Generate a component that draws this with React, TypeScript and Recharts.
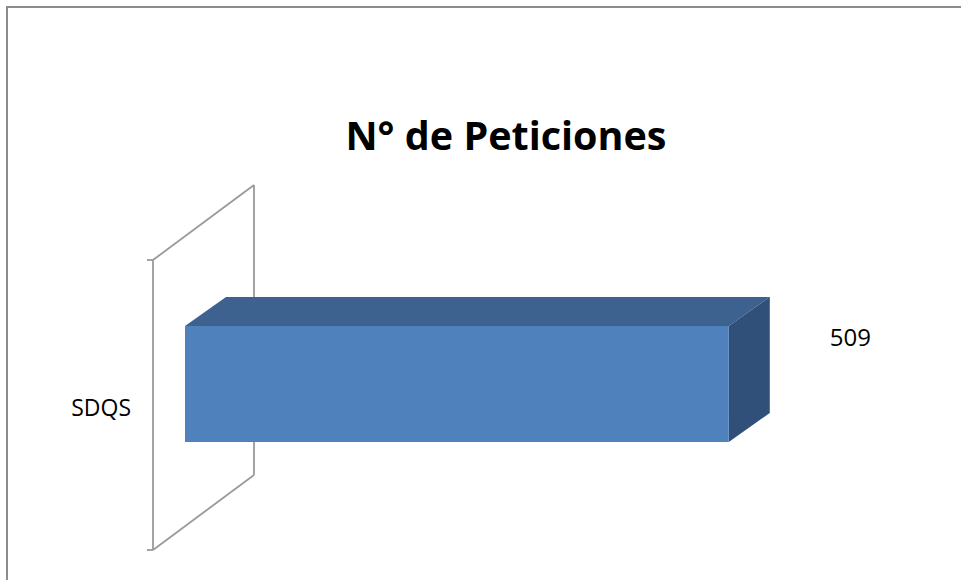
import React from 'react';
import { BarChart, Bar, XAxis, YAxis, LabelList } from 'recharts';

const categories = ['SDQS'];
const values = [509];
const titleText = 'N° de Peticiones';

const data = categories.map((c, i) => ({ name: c, value: values[i] }));

const FONT = '"Open Sans", "Noto Sans", sans-serif';
const GAP = 0.3;
const DEPTH_DX = 41;
const DEPTH_DY = -29;

const Wall = ({ x, y, height }: { x: number; y: number; height: number }) => {
  // derive the full category band from the bar thickness and gap ratio
  const bandH = height / (1 - 2 * GAP);
  const bandY = y - GAP * bandH;
  const fx = x - 32;
  const fy = bandY + 21;
  const bx = x + 69;
  const by = bandY - 54;
  return (
    <g fill="none" stroke="#9A9A9A" strokeWidth={1.8}>
      <line x1={fx} y1={fy} x2={fx} y2={fy + bandH} />
      <line x1={bx} y1={by} x2={bx} y2={by + bandH} />
      <line x1={fx} y1={fy} x2={bx} y2={by} />
      <line x1={fx} y1={fy + bandH} x2={bx} y2={by + bandH} />
      <line x1={fx - 6} y1={fy} x2={fx} y2={fy} />
      <line x1={fx - 6} y1={fy + bandH} x2={fx} y2={fy + bandH} />
    </g>
  );
};

const Bar3D = (props: any) => {
  const { x, y, width, height } = props;
  if (width == null || height == null) return null;
  const front = `M${x},${y} L${x + width},${y} L${x + width},${y + height} L${x},${y + height} Z`;
  const top = `M${x},${y} L${x + DEPTH_DX},${y + DEPTH_DY} L${x + width + DEPTH_DX},${y + DEPTH_DY} L${x + width},${y} Z`;
  const side = `M${x + width},${y} L${x + width + DEPTH_DX},${y + DEPTH_DY} L${x + width + DEPTH_DX},${y + height + DEPTH_DY} L${x + width},${y + height} Z`;
  return (
    <g>
      <Wall x={x} y={y} height={height} />
      <path d={top} fill="#3D6290" />
      <path d={side} fill="#30507A" />
      <path d={front} fill="#4F81BD" />
    </g>
  );
};

const CatTick = (props: any) => {
  const { x, y, payload } = props;
  return (
    <text x={x - 46} y={y + 32} textAnchor="end" fontFamily={FONT} fontSize={23} fill="#000">
      {payload.value}
    </text>
  );
};

const ValueLabel = (props: any) => {
  const { x, y, width, height, value } = props;
  return (
    <text x={x + width + 101} y={y + height / 2 - 38} textAnchor="start" fontFamily={FONT} fontSize={24} fill="#000">
      {value}
    </text>
  );
};

export default function App() {
  return (
    <div style={{ position: 'absolute', left: 0, top: 0, width: 961, height: 580, background: '#fff', overflow: 'hidden' }}>
      <div
        style={{
          position: 'absolute',
          left: 6,
          top: 6,
          width: 1000,
          height: 600,
          borderTop: '2px solid #8C8C8C',
          borderLeft: '2px solid #8C8C8C',
        }}
      />
      <div
        style={{
          position: 'absolute',
          left: 306,
          width: 400,
          top: 110,
          textAlign: 'center',
          fontFamily: FONT,
          fontWeight: 700,
          fontSize: 39.5,
          color: '#000',
          lineHeight: '50px',
          whiteSpace: 'nowrap',
        }}
      >
        {titleText}
      </div>
      <div style={{ position: 'absolute', left: 0, top: 0 }}>
        <BarChart
          width={961}
          height={580}
          data={data}
          layout="vertical"
          margin={{ top: 239, right: 135, bottom: 51, left: 125 }}
          barCategoryGap="30%"
        >
          <XAxis type="number" domain={[0, 600]} hide />
          <YAxis
            type="category"
            dataKey="name"
            width={60}
            axisLine={false}
            tickLine={false}
            tick={CatTick}
          />
          <Bar dataKey="value" isAnimationActive={false} shape={Bar3D}>
            <LabelList dataKey="value" content={ValueLabel} />
          </Bar>
        </BarChart>
      </div>
    </div>
  );
}
